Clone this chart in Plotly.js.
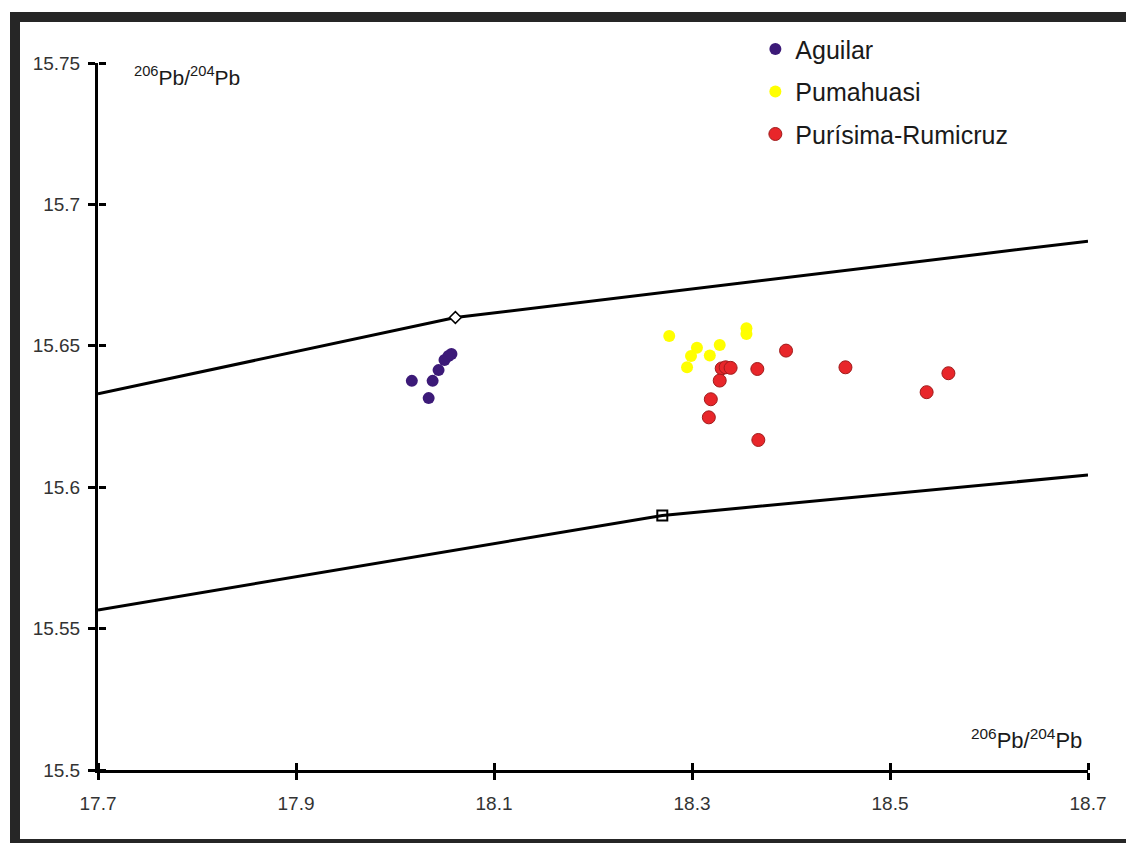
<!DOCTYPE html>
<html>
<head>
<meta charset="utf-8">
<script src="https://cdn.plot.ly/plotly-3.0.1.min.js"></script>
<style>
  html, body { margin: 0; padding: 0; background: #fff; overflow: hidden; }
  #chart { position: absolute; left: 0; top: 0; width: 1126px; height: 843px; }
  .bar { position: absolute; background: #262626; pointer-events: none; }
</style>
</head>
<body>
<div id="chart"></div>
<div class="bar" style="left:10px; top:14px; width:10px; height:829px;"></div>
<div class="bar" style="left:10px; top:12px; width:1116px; height:10px;"></div>
<div class="bar" style="left:10px; top:839px; width:1116px; height:4px;"></div>
<script>
// ---- data ----
const aguilarX = [18.017, 18.038, 18.044, 18.050, 18.054, 18.057, 18.034];
const aguilarY = [15.6376, 15.6376, 15.6414, 15.6450, 15.6464, 15.6471, 15.6315];

const pumahuasiX = [18.277, 18.305, 18.299, 18.295, 18.318, 18.328, 18.355, 18.355];
const pumahuasiY = [15.6535, 15.6493, 15.6464, 15.6424, 15.6466, 15.6503, 15.6562, 15.6542];

const purisimaX = [18.395, 18.330, 18.334, 18.339, 18.328, 18.366, 18.319, 18.317, 18.367, 18.455, 18.559, 18.537];
const purisimaY = [15.6483, 15.6420, 15.6424, 15.6422, 15.6377, 15.6418, 15.6311, 15.6247, 15.6167, 15.6424, 15.6403, 15.6336];

const upperX = [17.7, 18.061, 18.7];
const upperY = [15.633, 15.660, 15.687];
const lowerX = [17.7, 18.27, 18.7];
const lowerY = [15.5566, 15.590, 15.6043];

const xTicks = [17.7, 17.9, 18.1, 18.3, 18.5, 18.7];
const xTickLabels = ['17.7', '17.9', '18.1', '18.3', '18.5', '18.7'];
const yTicks = [15.5, 15.55, 15.6, 15.65, 15.7, 15.75];
const yTickLabels = ['15.5', '15.55', '15.6', '15.65', '15.7', '15.75'];

const seriesNames = ['Aguilar', 'Pumahuasi', 'Purísima-Rumicruz'];
const axisTitle = '<sup>206</sup>Pb/<sup>204</sup>Pb';

// ---- traces ----
const traces = [
  { x: upperX, y: upperY, mode: 'lines', line: { color: '#000', width: 3 }, showlegend: false, hoverinfo: 'skip' },
  { x: [upperX[1]], y: [upperY[1]], mode: 'markers', showlegend: false, hoverinfo: 'skip',
    marker: { symbol: 'diamond', size: 9, color: '#fff', line: { color: '#000', width: 1.5 } } },
  { x: lowerX, y: lowerY, mode: 'lines', line: { color: '#000', width: 3 }, showlegend: false, hoverinfo: 'skip',
    xaxis: 'x2', yaxis: 'y2' },
  { x: [lowerX[1]], y: [lowerY[1]], mode: 'markers', showlegend: false, hoverinfo: 'skip',
    marker: { symbol: 'square', size: 10, color: '#fff', line: { color: '#000', width: 2 } } },
  { x: aguilarX, y: aguilarY, mode: 'markers', name: seriesNames[0], legendgroup: 'a',
    marker: { size: 12, color: '#3c1a78' } },
  { x: pumahuasiX, y: pumahuasiY, mode: 'markers', name: seriesNames[1], legendgroup: 'b',
    marker: { size: 12, color: '#ffff00' } },
  { x: purisimaX, y: purisimaY, mode: 'markers', name: seriesNames[2], legendgroup: 'c',
    marker: { size: 13, color: '#e8262a', line: { color: '#a01c1c', width: 1 } } }
];

const fontFam = '"Liberation Sans", Arial, sans-serif';

const baseAxis = {
  showgrid: false, zeroline: false, showline: true, linecolor: '#000', linewidth: 3,
  ticks: 'outside', ticklen: 7, tickwidth: 3, tickcolor: '#000',
  tickfont: { family: fontFam, size: 19, color: '#333' }
};

// second set of axes, same ranges, whose outward ticks point into the plot (crossing ticks)
const crossAxis = {
  showticklabels: false, showline: false, showgrid: false, zeroline: false,
  ticks: 'outside', ticklen: 7, tickwidth: 3, tickcolor: '#000'
};

const layout = {
  width: 1126, height: 843,
  paper_bgcolor: '#fff', plot_bgcolor: '#fff',
  margin: { l: 98, r: 38, t: 63, b: 73 },
  font: { family: fontFam, color: '#222' },
  xaxis: Object.assign({}, baseAxis, { range: [17.7, 18.7], tickvals: xTicks, ticktext: xTickLabels, ticklabelstandoff: 7 }),
  yaxis: Object.assign({}, baseAxis, { range: [15.5, 15.75], tickvals: yTicks, ticktext: yTickLabels, ticklabelstandoff: 4 }),
  xaxis2: Object.assign({}, crossAxis, { overlaying: 'x', side: 'top', anchor: 'free', position: 0,
            range: [17.7, 18.7], tickvals: xTicks }),
  yaxis2: Object.assign({}, crossAxis, { overlaying: 'y', side: 'right', anchor: 'free', position: 0,
            range: [15.5, 15.75], tickvals: yTicks }),
  showlegend: true,
  legend: {
    x: 0.664, xanchor: 'left', y: 1.052, yanchor: 'top',
    font: { family: fontFam, size: 25, color: '#1a1a1a' },
    bgcolor: 'rgba(0,0,0,0)', tracegroupgap: 7
  },
  annotations: [
    { text: axisTitle, xref: 'paper', yref: 'paper', x: 0.0345, y: 0.982, xanchor: 'left', yanchor: 'middle',
      showarrow: false, font: { family: fontFam, size: 21, color: '#1a1a1a' } },
    { text: axisTitle, xref: 'paper', yref: 'paper', x: 0.996, y: 0.044, xanchor: 'right', yanchor: 'middle',
      showarrow: false, font: { family: fontFam, size: 22, color: '#1a1a1a' } }
  ]
};

Plotly.newPlot('chart', traces, layout, { displayModeBar: false, staticPlot: true });
</script>
</body>
</html>
